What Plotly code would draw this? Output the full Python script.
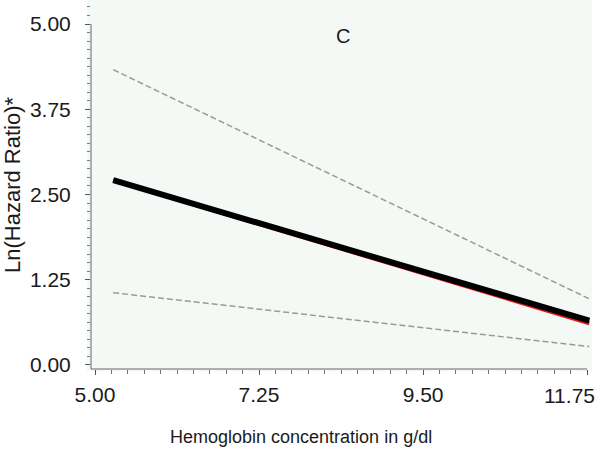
import plotly.graph_objects as go

# Data
hb = [5.25, 11.78]
fit_black = [2.71, 0.65]
fit_red = [2.71, 0.61]
ci_upper = [4.33, 0.97]
ci_lower = [1.06, 0.27]

x_ticks = [5.00, 7.25, 9.50, 11.75]
x_tick_text = ["5.00", "7.25", "9.50", "11.75"]
y_ticks = [0.00, 1.25, 2.50, 3.75, 5.00]
y_tick_text = ["0.00", "1.25", "2.50", "3.75", "5.00"]

FONT = "Liberation Sans, Arial, sans-serif"
TXT = "#1a1a1a"

fig = go.Figure()
fig.add_trace(go.Scatter(x=hb, y=ci_upper, mode="lines",
                         line=dict(color="#9a9a9a", width=1.5, dash="6px,3px")))
fig.add_trace(go.Scatter(x=hb, y=ci_lower, mode="lines",
                         line=dict(color="#9a9a9a", width=1.5, dash="6px,3px")))
fig.add_trace(go.Scatter(x=hb, y=fit_red, mode="lines",
                         line=dict(color="#e8141c", width=4)))
fig.add_trace(go.Scatter(x=hb, y=fit_black, mode="lines",
                         line=dict(color="#000000", width=6)))

# last x label is shifted left to stay inside the figure -> drawn as annotation
shown_x_text = x_tick_text[:-1] + [""]

fig.update_layout(
    width=600, height=450,
    margin=dict(l=91, r=8, t=0, b=81),
    paper_bgcolor="white",
    plot_bgcolor="#f4f9f5",
    showlegend=False,
    font=dict(family=FONT, size=18, color=TXT),
    xaxis=dict(range=[4.945, 11.817], showgrid=False, zeroline=False, showline=False,
               tickmode="array", tickvals=x_ticks, ticktext=shown_x_text,
               ticks="outside", ticklen=5, tickcolor="#555", tickwidth=1,
               ticklabelstandoff=2,
               minor=dict(tick0=5, dtick=0.225, ticks="outside", ticklen=4,
                          tickcolor="#777", showgrid=False),
               tickfont=dict(family=FONT, size=21, color=TXT)),
    yaxis=dict(range=[-0.059, 5.352], showgrid=False, zeroline=False, showline=False,
               tickmode="array", tickvals=y_ticks, ticktext=y_tick_text,
               ticks="outside", ticklen=5, tickcolor="#555", tickwidth=1,
               ticklabelstandoff=10,
               minor=dict(tick0=0, dtick=0.125, ticks="outside", ticklen=3,
                          tickcolor="#777", showgrid=False),
               tickfont=dict(family=FONT, size=21, color=TXT)),
    shapes=[
        dict(type="rect", xref="paper", yref="paper", x0=-0.008, x1=1, y0=-0.006, y1=1,
             fillcolor="#f4f9f5", line=dict(width=0), layer="below"),
        dict(type="line", xref="paper", yref="y", x0=0, x1=0, y0=-0.059, y1=5.0,
             line=dict(color="#666", width=1)),
        dict(type="line", xref="x", yref="paper", x0=4.945, x1=11.75, y0=0, y1=0,
             line=dict(color="#666", width=1)),
    ],
    annotations=[
        dict(text=x_tick_text[-1], xref="paper", yref="paper",
             x=0.956, y=-0.0705, xanchor="center", yanchor="middle", showarrow=False,
             font=dict(family=FONT, size=21, color=TXT)),
        dict(text="Hemoglobin concentration in g/dl", xref="paper", yref="paper",
             x=0.419, y=-0.184, xanchor="center", yanchor="middle", showarrow=False,
             font=dict(family=FONT, size=18, color=TXT)),
        dict(text="Ln(Hazard Ratio)*", xref="paper", yref="paper",
             x=-0.158, y=0.501, xanchor="center", yanchor="middle", showarrow=False,
             textangle=-90, font=dict(family=FONT, size=22, color=TXT)),
        dict(text="C", xref="paper", yref="paper",
             x=0.503, y=0.902, xanchor="center", yanchor="middle", showarrow=False,
             font=dict(family=FONT, size=20, color=TXT)),
    ],
)

fig.write_html("out.html", config={"displayModeBar": False},
               post_script="document.body.style.margin='0';")
